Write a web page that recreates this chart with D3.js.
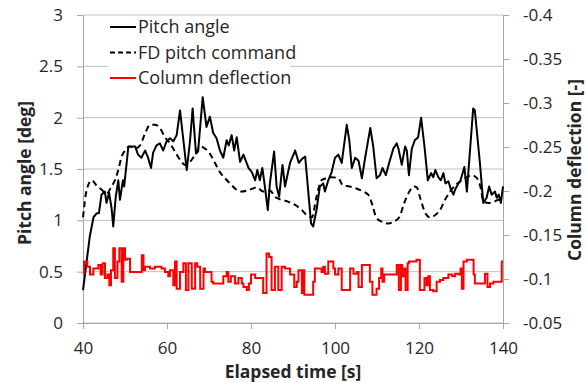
<!DOCTYPE html>
<html lang="en">
<head>
    <meta charset="UTF-8">
    <title>Pitch angle and column deflection</title>
    <script src="https://d3js.org/d3.v7.min.js"></script>
    <style>
        body {
            margin: 0;
            padding: 0;
            background-color: #fff;
            font-family: "Open Sans", Arial, sans-serif;
        }
        svg text {
            fill: #262626;
        }
        .axis path, .axis line {
            stroke: #a6a6a6;
        }
        .axis text {
            font-size: 17px;
            font-family: "Open Sans", Arial, sans-serif;
        }
        .title {
            font-size: 17.5px;
            font-weight: bold;
        }
        .legend text {
            font-size: 18px;
        }
    </style>
</head>
<body>
    <svg id="chart" width="587" height="383"></svg>

    <script>
        // Pitch angle [deg] (solid line)
        const pitchTime = [40, 40.9, 41.6, 42.5, 43.3, 43.8, 44.4, 45.2, 45.6, 46.2, 46.8, 47.2, 47.8, 48.4, 48.8, 49.5, 49.8,
            50.4, 50.8, 51.6, 52.4, 53.1, 53.9, 54.8, 55.5, 56.2, 56.7, 57.5, 58.3, 59.1, 59.9, 60.7, 61.5, 62.3, 63.1, 63.9,
            64.7, 65.5, 66.1, 66.9, 67.4, 68.5, 69.4, 70.2, 71.0, 71.8, 72.6, 73.4, 74.2, 74.7, 75.4, 76.0, 76.6, 77.4, 78.2,
            79.4, 80.2, 81.0, 81.5, 82.1, 82.7, 83.3, 84.0, 84.5, 85.5, 86.1, 86.7, 87.5, 88.1, 89.3, 90.5, 91.4, 92.2, 92.9,
            94.3, 94.8, 95.6, 96.4, 97.2, 97.6, 98.4, 99.2, 100.0, 100.8, 101.6, 102.8, 103.4, 104.0, 104.8, 105.6, 106.4,
            107.1, 108.4, 109.1, 109.9, 110.7, 111.3, 112.1, 112.9, 113.9, 114.7, 115.1, 115.9, 116.7, 117.1, 117.6, 118.3,
            119.0, 119.8, 120.5, 121.3, 122.1, 122.9, 123.4, 123.9, 124.6, 125.2, 125.8, 126.3, 127.0, 127.6, 128.2, 128.6,
            129.4, 129.9, 130.8, 131.4, 132.9, 133.3, 134.5, 135.3, 136.1, 136.7, 137.3, 138.1, 138.5, 139.0, 139.5, 140.0];
        const pitchAngle = [0.32, 0.61, 0.84, 1.03, 1.07, 1.07, 1.25, 1.28, 1.17, 1.27, 1.12, 0.94, 1.23, 1.39, 1.20, 1.39, 1.33,
            1.56, 1.72, 1.72, 1.72, 1.64, 1.61, 1.68, 1.61, 1.51, 1.66, 1.73, 1.75, 1.68, 1.77, 1.80, 1.77, 1.83, 2.07, 1.78,
            1.49, 1.78, 2.09, 1.65, 1.67, 2.20, 1.91, 2.01, 1.85, 1.80, 1.68, 1.61, 1.78, 1.73, 1.83, 1.68, 1.81, 1.57, 1.64,
            1.51, 1.47, 1.39, 1.49, 1.39, 1.51, 1.33, 1.10, 1.36, 1.67, 1.33, 1.23, 1.54, 1.33, 1.56, 1.68, 1.56, 1.60, 1.62,
            0.97, 0.94, 1.10, 1.33, 1.36, 1.28, 1.39, 1.47, 1.61, 1.64, 1.56, 1.93, 1.78, 1.51, 1.61, 1.58, 1.41,
            1.59, 1.90, 1.72, 1.41, 1.44, 1.51, 1.44, 1.56, 1.70, 1.75, 1.70, 1.54, 1.72, 1.68, 1.44, 1.70,
            1.78, 1.81, 2.00, 1.72, 1.39, 1.46, 1.42, 1.49, 1.42, 1.39, 1.46, 1.36, 1.38, 1.30, 1.25, 1.30,
            1.36, 1.39, 1.52, 1.28, 2.09, 2.07, 1.56, 1.17, 1.22, 1.33, 1.25, 1.28, 1.22, 1.25, 1.17, 1.33];

        // FD pitch command [deg] (dashed line)
        const fdTime = [40, 40.9, 42.1, 43.2, 44.4, 45.6, 46.8, 47.6, 48.4, 49.2, 50.0, 51.2, 52.4, 53.6, 54.8, 56.0, 57.1,
            58.3, 59.5, 60.7, 61.9, 63.1, 64.3, 65.5, 66.7, 67.9, 69.0, 70.2, 71.4, 72.6, 73.8, 75.0, 76.2, 77.8, 79.8, 81.4,
            82.9, 84.5, 85.7, 87.3, 88.9, 90.5, 92.1, 93.3, 94.5, 95.6, 96.8, 98.0, 99.2, 100.8, 101.9, 103.5, 105.1, 106.7,
            107.9, 108.9, 109.8, 111.0, 112.6, 114.1, 115.3, 116.5, 117.7, 118.9, 119.5, 120.2, 121.4, 122.6, 123.8, 125.0,
            126.2, 127.4, 128.6, 130.2, 131.4, 132.6, 133.8, 134.6, 135.4, 136.6, 137.8, 139.0, 140.0];
        const fdCommand = [1.03, 1.30, 1.39, 1.34, 1.30, 1.26, 1.33, 1.39, 1.49, 1.62, 1.68, 1.72, 1.70, 1.73, 1.85, 1.93, 1.93,
            1.90, 1.81, 1.75, 1.67, 1.59, 1.54, 1.57, 1.64, 1.72, 1.70, 1.65, 1.56, 1.47, 1.41, 1.36, 1.31, 1.28, 1.30, 1.32,
            1.28, 1.29, 1.23, 1.20, 1.18, 1.15, 1.10, 1.05, 1.03, 1.23, 1.39, 1.41, 1.42, 1.41, 1.34, 1.33, 1.31, 1.28,
            1.25, 1.15, 1.03, 0.99, 0.97, 0.99, 1.03, 1.17, 1.28, 1.33, 1.32, 1.23, 1.08, 1.03, 1.05, 1.10,
            1.20, 1.28, 1.34, 1.39, 1.42, 1.44, 1.41, 1.33, 1.18, 1.17, 1.18, 1.20, 1.20];

        // Column deflection [-] (red step line, right axis)
        const colTime = [40, 40.24, 41.03, 41.67, 42.46, 43.65, 44.2, 44.68, 45.24, 45.8, 46.27, 46.67, 47.2, 47.6, 48.2, 48.65,
            49.2, 49.6, 50, 50.4, 51.2, 54, 54.4, 54.76, 55.95, 57.1, 58.7, 59.5, 60.3, 60.7, 61.5, 61.9, 62.3, 63.1, 63.9,
            64.5, 65.1, 65.9, 66.7, 67.2, 67.9, 68.7, 69.05, 70.6, 71, 73.4, 74.2,
            74.6, 75.2, 76.2, 77, 77.8, 78.2, 79, 79.5, 80, 81, 82.9, 83.7, 84.3, 84.9, 85.7, 86.5, 87.3, 88.1, 89.3, 90.3,
            90.9, 91.3, 92.1, 92.5, 92.7, 94.8, 95.2, 96.8, 97.2, 97.6, 98.4, 99.6, 100, 100.8, 101.6, 103.6, 104.4, 105.2,
            105.6, 106.4,
            108.3, 108.9, 109.9, 110.5, 111, 111.3, 111.7, 112.1, 114.7, 115.2, 115.7, 116, 116.5, 116.8, 117.3, 117.6,
            119.4, 120.2, 121.3, 121.8, 122.2, 122.6, 123.4, 124.2, 125, 125.8, 127, 127.9, 128.6, 129.4, 129.9, 130.2,
            130.6, 131.4, 133, 133.3, 135.7, 136.3, 136.9, 137.7, 139.7, 140];
        const colDeflection = [-0.106, -0.120, -0.114, -0.105, -0.112, -0.116, -0.105, -0.118, -0.101, -0.105, -0.093, -0.110,
            -0.135, -0.101, -0.120, -0.135, -0.097, -0.135, -0.122, -0.123, -0.108, -0.127, -0.110, -0.114, -0.112, -0.114,
            -0.112, -0.108, -0.103, -0.110, -0.093, -0.120, -0.089, -0.108, -0.118, -0.0875, -0.118, -0.089, -0.118, -0.114,
            -0.089, -0.112, -0.108, -0.097, -0.095, -0.103, -0.108,
            -0.097, -0.103, -0.095, -0.101, -0.095, -0.091, -0.0875, -0.095, -0.105, -0.101, -0.084, -0.129, -0.125, -0.0875,
            -0.114, -0.0875, -0.114, -0.112, -0.105, -0.091, -0.097, -0.110, -0.084, -0.110, -0.082, -0.097, -0.112, -0.108,
            -0.114, -0.106, -0.120, -0.112, -0.105, -0.112, -0.0875, -0.112, -0.106, -0.108, -0.091, -0.116,
            -0.097, -0.082, -0.089, -0.101, -0.112, -0.097, -0.105, -0.105, -0.116, -0.0875, -0.116, -0.103, -0.112, -0.0875,
            -0.118, -0.120, -0.122, -0.0875, -0.101, -0.093, -0.103, -0.0875, -0.086, -0.097, -0.099, -0.101, -0.105, -0.103,
            -0.106, -0.105, -0.112, -0.089, -0.120, -0.122, -0.105, -0.095, -0.106, -0.091, -0.095, -0.097, -0.120, -0.120];

        // Tick labels
        const xTicks = [40, 60, 80, 100, 120, 140];
        const leftTicks = [0, 0.5, 1, 1.5, 2, 2.5, 3];
        const rightTicks = [-0.4, -0.35, -0.3, -0.25, -0.2, -0.15, -0.1, -0.05];

        const legendLabels = ['Pitch angle', 'FD pitch command', 'Column deflection'];

        const svg = d3.select('#chart');

        const x = d3.scaleLinear().domain([40, 140]).range([83, 503]);
        const yLeft = d3.scaleLinear().domain([0, 3]).range([323, 15]);
        const yRight = d3.scaleLinear().domain([-0.05, -0.4]).range([323, 15]);

        // Horizontal gridlines
        svg.append('g')
            .selectAll('line')
            .data(leftTicks)
            .enter()
            .append('line')
            .attr('x1', x(40))
            .attr('x2', x(140))
            .attr('y1', d => yLeft(d))
            .attr('y2', d => yLeft(d))
            .attr('stroke', '#bfbfbf')
            .attr('stroke-width', 1);

        // Axes
        svg.append('g')
            .attr('class', 'axis')
            .attr('transform', `translate(${x(40)},0)`)
            .call(d3.axisLeft(yLeft).tickValues(leftTicks).tickFormat(d => d)
                .tickSize(6).tickSizeOuter(0).tickPadding(14));

        svg.append('g')
            .attr('class', 'axis')
            .attr('transform', `translate(${x(140)},0)`)
            .call(d3.axisRight(yRight).tickValues(rightTicks).tickFormat(d => d)
                .tickSize(6).tickSizeOuter(0).tickPadding(14));

        svg.append('g')
            .attr('class', 'axis')
            .attr('transform', `translate(0,${yLeft(0)})`)
            .call(d3.axisBottom(x).tickValues(xTicks).tickFormat(d => d)
                .tickSize(6).tickSizeOuter(0).tickPadding(13));

        svg.selectAll('.axis .domain').attr('stroke', '#a6a6a6');

        // Lines
        const fdLine = d3.line()
            .x((d, i) => x(fdTime[i]))
            .y(d => yLeft(d))
            .curve(d3.curveMonotoneX);

        const pitchLine = d3.line()
            .x((d, i) => x(pitchTime[i]))
            .y(d => yLeft(d));

        const colLine = d3.line()
            .x((d, i) => x(colTime[i]))
            .y(d => yRight(d))
            .curve(d3.curveStepAfter);

        svg.append('path')
            .datum(fdCommand)
            .attr('d', fdLine)
            .attr('fill', 'none')
            .attr('stroke', '#000')
            .attr('stroke-width', 2)
            .attr('stroke-dasharray', '6,4');

        svg.append('path')
            .datum(pitchAngle)
            .attr('d', pitchLine)
            .attr('fill', 'none')
            .attr('stroke', '#000')
            .attr('stroke-width', 2)
            .attr('stroke-linejoin', 'round');

        svg.append('path')
            .datum(colDeflection)
            .attr('d', colLine)
            .attr('fill', 'none')
            .attr('stroke', '#ff0000')
            .attr('stroke-width', 2);

        // Legend
        const legend = svg.append('g').attr('class', 'legend');
        legend.append('rect')
            .attr('x', 108)
            .attr('y', 17)
            .attr('width', 182)
            .attr('height', 70)
            .attr('fill', '#fff');

        const legendStyles = [
            { stroke: '#000', dash: null },
            { stroke: '#000', dash: '5,3' },
            { stroke: '#ff0000', dash: null }
        ];

        legendLabels.forEach((label, i) => {
            const ly = 27 + i * 25.5;
            legend.append('line')
                .attr('x1', 110)
                .attr('x2', 136)
                .attr('y1', ly)
                .attr('y2', ly)
                .attr('stroke', legendStyles[i].stroke)
                .attr('stroke-width', 2)
                .attr('stroke-dasharray', legendStyles[i].dash);
            legend.append('text')
                .attr('x', 138)
                .attr('y', ly + 6)
                .text(label);
        });

        // Axis titles
        svg.append('text')
            .attr('class', 'title')
            .attr('text-anchor', 'middle')
            .attr('transform', 'translate(31,173) rotate(-90)')
            .text('Pitch angle [deg]');

        svg.append('text')
            .attr('class', 'title')
            .attr('text-anchor', 'middle')
            .attr('transform', 'translate(581,170) rotate(-90)')
            .text('Column deflection [-]');

        svg.append('text')
            .attr('class', 'title')
            .attr('text-anchor', 'middle')
            .attr('x', 293)
            .attr('y', 378)
            .text('Elapsed time [s]');
    </script>
</body>
</html>
